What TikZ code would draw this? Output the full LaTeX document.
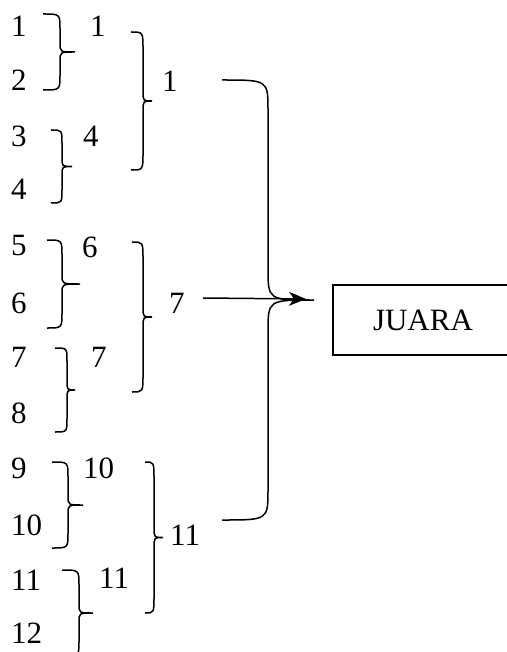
\documentclass[tikz,border=0pt]{standalone}
\usepackage{fontspec}
\setmainfont{Liberation Serif}
\usetikzlibrary{arrows.meta, positioning}

\tikzset{
  brk/.style={line width=1.5pt},
  num/.style={font=\fontsize{31}{36}\selectfont, inner sep=0pt, anchor=base west},
}
% ends x, vertical x, tip x, top y, bottom y, end radius, tip radius
\newcommand{\tiebrace}[7]{%
  \draw[brk] (#1,#4) .. controls (#2,#4) .. (#2,{#4+#6})
    -- (#2,{(#4+#5)/2-#7}) .. controls (#2,{(#4+#5)/2}) .. (#3,{(#4+#5)/2})
    .. controls (#2,{(#4+#5)/2}) .. (#2,{(#4+#5)/2+#7})
    -- (#2,{#5-#6}) .. controls (#2,#5) .. (#1,#5);}

\begin{document}
\begin{tikzpicture}
\begin{scope}[x=1pt,y=-1pt]
    \useasboundingbox (0,0) rectangle (506,652);

    %
    \node[num] (n1)  at (11,37)  {1};
    \node[num] (n2)  at (11,91)  {2};
    \node[num] (n3)  at (11,147) {3};
    \node[num] (n4)  at (11,200) {4};
    \node[num] (n5)  at (11,255) {5};
    \node[num] (n6)  at (11,313) {6};
    \node[num] (n7)  at (11,367) {7};
    \node[num] (n8)  at (11,423) {8};
    \node[num] (n9)  at (11,478) {9};
    \node[num] (n10) at (11,535) {10};
    \node[num] (n11) at (11,590) {11};
    \node[num] (n12) at (11,643) {12};

    %
    \tiebrace{43}{60}{75}{14}{90}{15}{9}
    \tiebrace{51}{62}{72}{130}{203}{13}{9}
    \tiebrace{47}{62}{80}{240}{328}{15}{9}
    \tiebrace{55}{67}{75}{348}{432}{13}{9}
    \tiebrace{52}{68}{83}{462}{548}{15}{9}
    \tiebrace{62}{79}{93}{570}{656}{15}{9}
    \node[num] (m1) at (90,37)  {1};
    \node[num] (m2) at (83,147) {4};
    \node[num] (m3) at (82,257) {6};
    \node[num] (m4) at (91,367) {7};
    \node[num] (m5) at (83,478) {10};
    \node[num] (m6) at (99,588) {11};

    %
    \tiebrace{131}{143}{152}{32}{170}{17}{10}
    \tiebrace{132}{143}{152}{242}{392}{17}{10}
    \tiebrace{145}{154}{163}{462}{613}{17}{10}
    \node[num] (r1) at (162,92)  {1};
    \node[num] (r2) at (169,313) {7};
    \node[num] (r3) at (170,545) {11};

    %
    \tiebrace{222}{268}{314}{80}{520}{30}{32}
    \coordinate (a7) at (203,298);
    \coordinate (tip) at (306,299);
    \draw[brk,-{Stealth[length=17pt,width=14pt,inset=5pt]}] (a7) -- (tip);

    \node[draw,line width=1.3pt,minimum width=180pt,minimum height=70pt,
          font=\fontsize{31}{36}\selectfont] (juara) at (423,320) {JUARA};
\end{scope}
\end{tikzpicture}
\end{document}
